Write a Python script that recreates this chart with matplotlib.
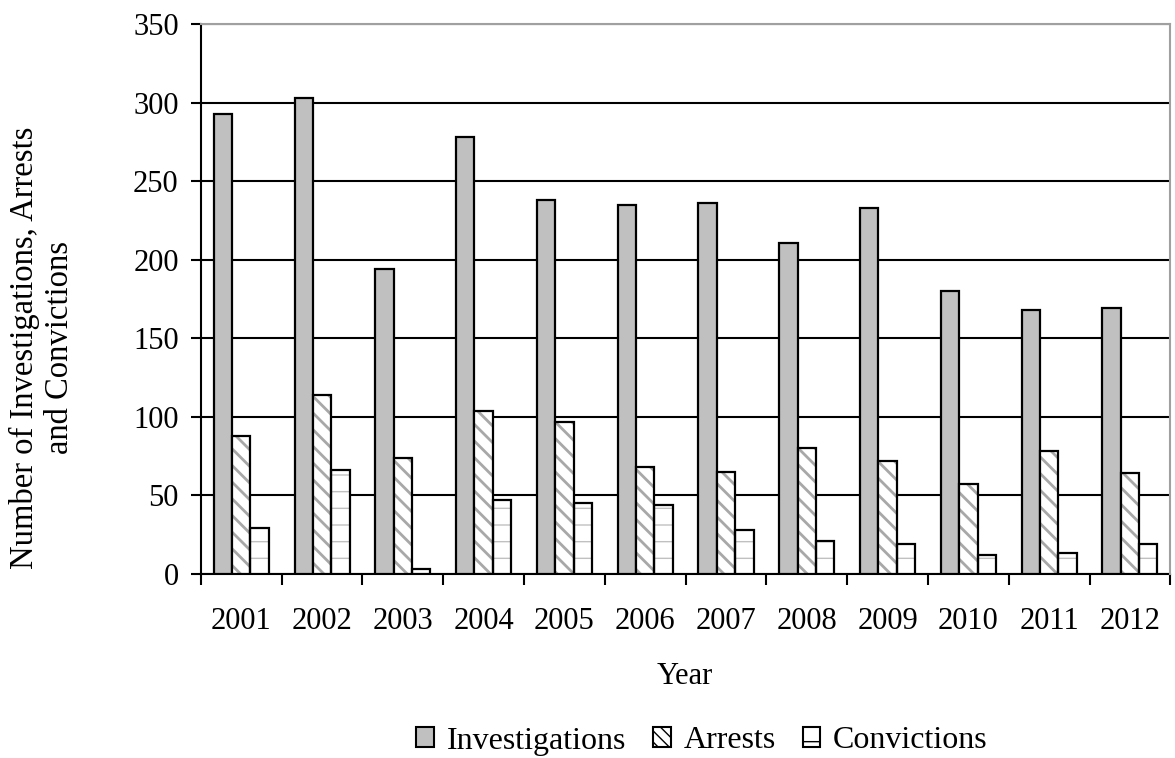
import numpy as np
import matplotlib.pyplot as plt

plt.rcParams['font.family'] = ['Liberation Serif', 'DejaVu Serif']
plt.rcParams['font.size'] = 22
plt.rcParams['hatch.linewidth'] = 2.0

# data
years = ['2001', '2002', '2003', '2004', '2005', '2006',
         '2007', '2008', '2009', '2010', '2011', '2012']
investigations = [293, 303, 194, 278, 238, 235, 236, 211, 233, 180, 168, 169]
arrests = [88, 114, 74, 104, 97, 68, 65, 80, 72, 57, 78, 64]
convictions = [29, 66, 3, 47, 45, 44, 28, 21, 19, 12, 13, 19]

fig = plt.figure(figsize=(11.75, 7.58), dpi=100)
ax = fig.add_axes([0.171, 0.243, 0.825, 0.725])

x = np.arange(len(years))
w = 0.227

# investigations: solid grey
ax.bar(x - w, investigations, w, color='#c0c0c0', edgecolor='black', linewidth=1.6, zorder=3)

# arrests: grey back-diagonal hatch, black outline drawn on top
ax.bar(x, arrests, w, color='white', edgecolor='#a8a8a8', hatch='\\\\', linewidth=0, zorder=3)
ax.bar(x, arrests, w, fill=False, edgecolor='black', linewidth=1.6, zorder=4)

# convictions: light dashes
plt.rcParams['hatch.linewidth'] = 1.0
ax.bar(x + w, convictions, w, color='white', edgecolor='#c0c0c0', hatch='-', linewidth=0, zorder=3)
ax.bar(x + w, convictions, w, fill=False, edgecolor='black', linewidth=1.6, zorder=4)

ax.set_xlim(-0.5, len(years) - 0.5)
ax.set_ylim(0, 350)
ax.set_yticks(np.arange(0, 351, 50))
ax.yaxis.grid(True, color='black', linewidth=1.5, zorder=0)
ax.set_axisbelow(True)

ax.set_xticks(x)
ax.set_xticklabels(years)
ax.set_xticks(np.arange(-0.5, len(years), 1), minor=True)
ax.tick_params(axis='x', which='major', length=0, pad=24)
ax.tick_params(axis='x', which='minor', length=8, width=1.5, direction='out')
ax.tick_params(axis='y', length=7, width=1.5, direction='out', pad=9)

for s in ['top', 'right']:
    ax.spines[s].set_color('#a0a0a0')
    ax.spines[s].set_linewidth(1.5)
    ax.spines[s].set_zorder(5)
ax.spines['left'].set_linewidth(1.5)
ax.spines['bottom'].set_linewidth(1.5)

fig.text(0.583, 1 - 676 / 758, 'Year', ha='center', va='center')
fig.text(42 / 1175, 1 - 348 / 758, 'Number of Investigations, Arrests\nand Convictions',
         ha='center', va='center', rotation=90, linespacing=1.2, fontsize=23.5)

h1 = plt.Rectangle((0, 0), 1, 1, facecolor='#c0c0c0', edgecolor='black', linewidth=1.5)
h2 = plt.Rectangle((0, 0), 1, 1, facecolor='white', edgecolor='black', hatch='\\\\\\', linewidth=1.5)
h3 = plt.Rectangle((0, 0), 1, 1, facecolor='white', edgecolor='black', hatch='-', linewidth=1.5)
fig.legend([h1, h2, h3], ['Investigations', 'Arrests', 'Convictions'],
           loc='center', bbox_to_anchor=(702 / 1175, 1 - 741 / 758), ncol=3, frameon=False,
           fontsize=23, handlelength=0.55, handleheight=0.6, handletextpad=0.4,
           columnspacing=0.85, borderpad=0)

fig.savefig('out.png', dpi=100)
